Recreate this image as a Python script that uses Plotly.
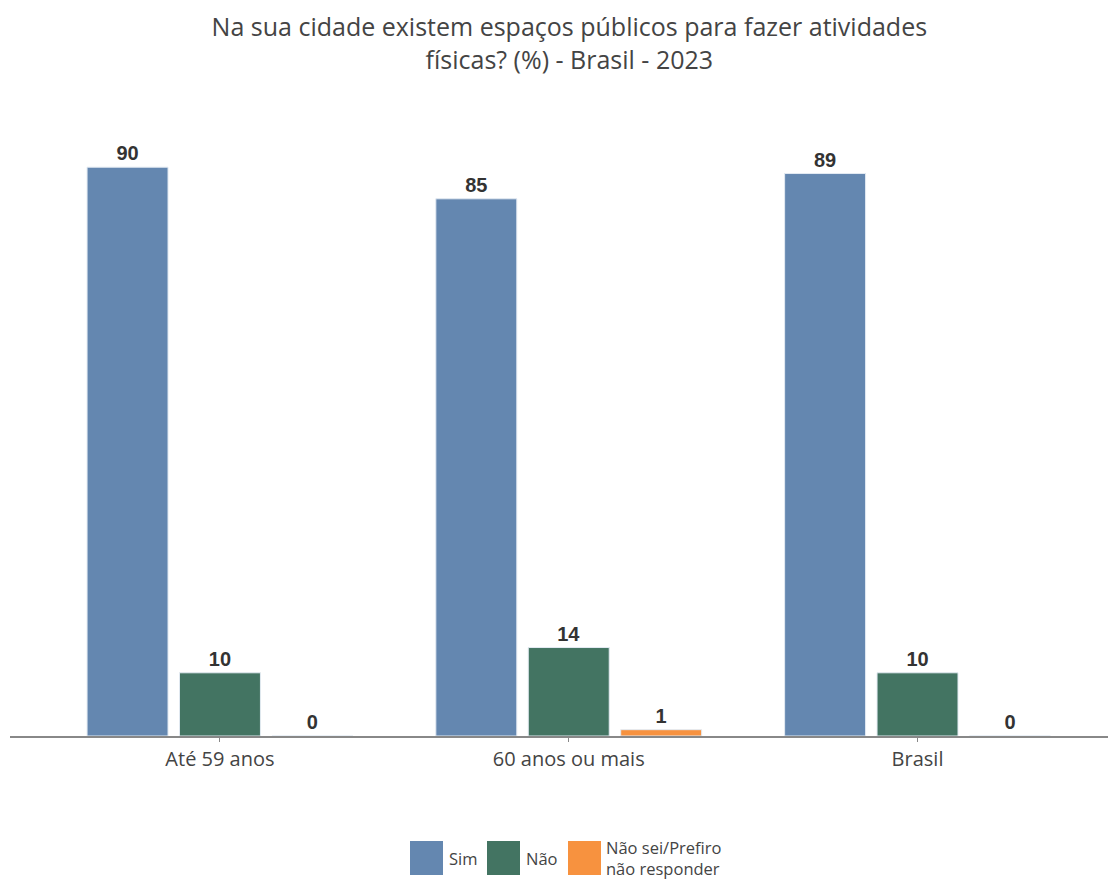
import plotly.graph_objects as go

categories = ["Até 59 anos", "60 anos ou mais", "Brasil"]
sim = [90, 85, 89]
nao = [10, 14, 10]
nao_sei = [0, 1, 0]
series_names = ["Sim", "Não", "Não sei/Prefiro<br>não responder"]
colors = ["#6487B0", "#437462", "#F7923F"]

FONT = "Open Sans"
W, H = 1116, 879
ML, MR, MT, MB = 2, 0, 96, 151
PW, PH = W - ML - MR, H - MT - MB

fig = go.Figure()
for name, vals, col in zip(series_names, [sim, nao, nao_sei], colors):
    fig.add_trace(go.Bar(
        x=categories, y=vals, name=name,
        marker=dict(color=col, line=dict(color="#E3EAF2", width=1)),
        text=[str(v) for v in vals], textposition="outside",
        textfont=dict(family="Liberation Sans, Arial", size=20, color="#333333", weight="bold"),
        cliponaxis=False, showlegend=False,
    ))

# Custom legend (large square swatches), positioned in pixel units of the page
def px_to_paper_x(px):
    return (px - 8 - ML) / PW

def px_to_paper_y(py):
    return (H - MB - (py - 8)) / PH

legend_items = [
    (410, 447, series_names[0], colors[0]),
    (487, 524, series_names[1], colors[1]),
    (568, 604, series_names[2], colors[2]),
]
shapes, annotations = [], []
for sx, tx, name, col in legend_items:
    shapes.append(dict(type="rect", xref="paper", yref="paper",
                       x0=px_to_paper_x(sx), x1=px_to_paper_x(sx + 33),
                       y0=px_to_paper_y(875), y1=px_to_paper_y(841),
                       fillcolor=col, line=dict(width=0)))
    annotations.append(dict(xref="paper", yref="paper", x=px_to_paper_x(tx),
                            y=px_to_paper_y(858), xanchor="left", yanchor="middle",
                            text=name, showarrow=False, align="left",
                            font=dict(family=FONT, size=16.5, color="#444444")))

fig.update_layout(
    width=W, height=H,
    paper_bgcolor="white", plot_bgcolor="white",
    barmode="group", bargap=0.205, bargroupgap=0.124,
    margin=dict(l=ML, r=MR, t=MT, b=MB, autoexpand=False),
    title=dict(
        text="Na sua cidade existem espaços públicos para fazer atividades<br>físicas? (%) - Brasil - 2023",
        x=0.503, xanchor="center", y=0.9676, yanchor="top",
        font=dict(family=FONT, size=25, color="#444444"),
    ),
    font=dict(family=FONT, color="#444444"),
    showlegend=False,
    shapes=shapes, annotations=annotations,
)
fig.update_xaxes(
    range=[-0.602, 2.592], showline=True, linecolor="#888888", linewidth=2,
    ticks="outside", ticklen=4, tickcolor="#888888",
    tickfont=dict(family=FONT, size=20, color="#444444"), showgrid=False,
)
fig.update_yaxes(range=[0, 100], visible=False, showgrid=False)

fig.write_html("out.html")
